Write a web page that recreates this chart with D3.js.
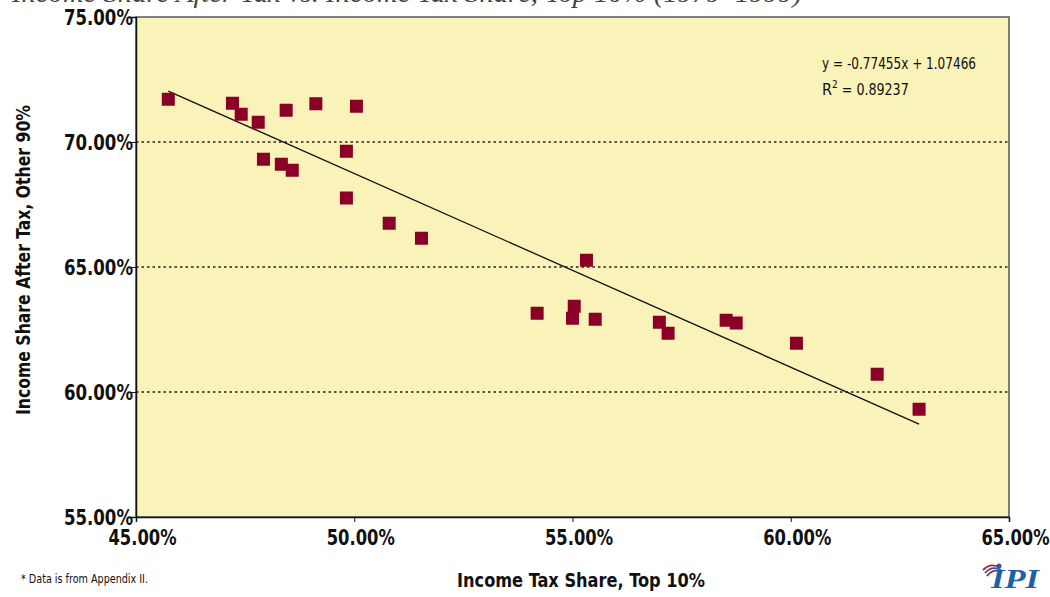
<!DOCTYPE html>
<html>
<head>
<meta charset="utf-8">
<script src="https://cdn.jsdelivr.net/npm/d3@7"></script>
<style>
  body { margin: 0; background: #fff; }
  svg { display: block; }
  .tick-label { font-family: "DejaVu Sans Condensed", "DejaVu Sans", sans-serif; font-stretch: condensed; font-weight: bold; font-size: 22px; fill: #111; }
  .axis-title { font-family: "DejaVu Sans Condensed", "DejaVu Sans", sans-serif; font-stretch: condensed; font-weight: bold; font-size: 19px; fill: #111; }
  .eq { font-family: "DejaVu Sans Condensed", "DejaVu Sans", sans-serif; font-stretch: condensed; font-size: 16px; fill: #111; }
  .note { font-family: "DejaVu Sans Condensed", "DejaVu Sans", sans-serif; font-stretch: condensed; font-size: 12px; fill: #111; }
</style>
</head>
<body>
<svg width="1050" height="597"></svg>
<script>
// income tax share of the top 10% (x) vs after-tax income share of the other 90% (y)
var taxShare = [45.74, 47.21, 47.41, 47.80, 48.44, 49.12, 50.05, 49.82, 47.92, 48.33,
                48.58, 49.82, 50.80, 51.54, 54.19, 55.04, 55.00, 55.32, 55.52, 56.99,
                57.19, 58.52, 58.75, 60.13, 61.98, 62.94];
var incomeShare = [71.71, 71.55, 71.11, 70.79, 71.27, 71.53, 71.43, 69.63, 69.31, 69.11,
                   68.87, 67.76, 66.75, 66.15, 63.15, 63.43, 62.95, 65.27, 62.91, 62.79,
                   62.35, 62.87, 62.76, 61.95, 60.71, 59.31];

var xTicks = [0.45, 0.50, 0.55, 0.60, 0.65];
var yTicks = [0.55, 0.60, 0.65, 0.70, 0.75];
var gridTicks = [0.60, 0.65, 0.70];

var trend = { slope: -0.77455, intercept: 1.07466, r2: 0.89237 };

var svg = d3.select('svg');
var plotLeft = 136, plotRight = 1009, plotTop = 17, plotBottom = 517;

var x = d3.scaleLinear().domain([0.45, 0.65]).range([plotLeft, plotRight]);
var y = d3.scaleLinear().domain([0.55, 0.75]).range([plotBottom, plotTop]);
var fmt = d3.format('.2%');

// title (cut off by the top edge in the source)
svg.append('text')
  .attr('x', 12)
  .attr('y', 2)
  .attr('font-family', 'Liberation Serif, serif')
  .attr('font-style', 'italic')
  .attr('font-size', 28)
  .attr('fill', '#444')
  .attr('textLength', 790)
  .attr('lengthAdjust', 'spacingAndGlyphs')
  .text('Income Share After Tax vs. Income Tax Share, Top 10% (1979–1999)');

// plot area
svg.append('rect')
  .attr('x', plotLeft).attr('y', plotTop)
  .attr('width', plotRight - plotLeft).attr('height', plotBottom - plotTop)
  .attr('fill', '#f9f2b9')
  .attr('stroke', '#555')
  .attr('stroke-width', 1.5);

svg.append('g').selectAll('line').data(gridTicks).enter().append('line')
  .attr('x1', plotLeft).attr('x2', plotRight)
  .attr('y1', function(d) { return y(d); })
  .attr('y2', function(d) { return y(d); })
  .attr('stroke', '#222')
  .attr('stroke-width', 1.3)
  .attr('stroke-dasharray', '2.5,3');

// axes
var xAxis = d3.axisBottom(x).tickValues(xTicks).tickSize(5).tickFormat(fmt);
var gx = svg.append('g').attr('transform', 'translate(0,' + plotBottom + ')').call(xAxis);
gx.attr('font-family', null).attr('font-size', null);
gx.select('.domain').attr('stroke', '#111').attr('stroke-width', 1.5);
gx.selectAll('.tick line').attr('stroke', '#111');
gx.selectAll('.tick text').attr('class', 'tick-label')
  .attr('dx', 6).attr('dy', 20)
  .attr('textLength', 68).attr('lengthAdjust', 'spacingAndGlyphs');

var yAxis = d3.axisLeft(y).tickValues(yTicks).tickSize(5).tickFormat(fmt);
var gy = svg.append('g').attr('transform', 'translate(' + plotLeft + ',0)').call(yAxis);
gy.attr('font-family', null).attr('font-size', null);
gy.select('.domain').attr('stroke', '#111').attr('stroke-width', 1.5);
gy.selectAll('.tick line').attr('stroke', '#111');
gy.selectAll('.tick text').attr('class', 'tick-label')
  .attr('x', -3).attr('dy', '0.34em')
  .attr('textLength', 69).attr('lengthAdjust', 'spacingAndGlyphs');

// trend line
var xMin = d3.min(taxShare) / 100, xMax = d3.max(taxShare) / 100;
svg.append('line')
  .attr('x1', x(xMin)).attr('y1', y(trend.slope * xMin + trend.intercept))
  .attr('x2', x(xMax)).attr('y2', y(trend.slope * xMax + trend.intercept))
  .attr('stroke', '#111')
  .attr('stroke-width', 1.3);

// points
var sz = 13;
svg.append('g').selectAll('rect').data(taxShare).enter().append('rect')
  .attr('x', function(d) { return x(d / 100) - sz / 2; })
  .attr('y', function(d, i) { return y(incomeShare[i] / 100) - sz / 2; })
  .attr('width', sz).attr('height', sz)
  .attr('fill', '#8a0026');

// equation
svg.append('text').attr('class', 'eq').attr('x', 822).attr('y', 69)
  .attr('textLength', 154).attr('lengthAdjust', 'spacingAndGlyphs')
  .text('y = ' + trend.slope + 'x + ' + trend.intercept);
var r2 = svg.append('text').attr('class', 'eq').attr('x', 822).attr('y', 95);
r2.append('tspan').text('R');
r2.append('tspan').attr('font-size', 10).attr('dy', -7).text('2');
r2.append('tspan').attr('dy', 7)
  .attr('textLength', 71).attr('lengthAdjust', 'spacingAndGlyphs')
  .text(' = ' + trend.r2);

// axis titles
svg.append('text').attr('class', 'axis-title')
  .attr('x', 581).attr('y', 587)
  .attr('text-anchor', 'middle')
  .attr('textLength', 248).attr('lengthAdjust', 'spacingAndGlyphs')
  .text('Income Tax Share, Top 10%');

svg.append('text').attr('class', 'axis-title')
  .attr('transform', 'translate(30,260) rotate(-90)')
  .attr('text-anchor', 'middle')
  .attr('textLength', 310).attr('lengthAdjust', 'spacingAndGlyphs')
  .text('Income Share After Tax, Other 90%');

// footnote
svg.append('text').attr('class', 'note')
  .attr('x', 21).attr('y', 583)
  .attr('textLength', 127).attr('lengthAdjust', 'spacingAndGlyphs')
  .text('* Data is from Appendix II.');

// logo
var logo = svg.append('g').attr('transform', 'translate(983,564)');
[0, 1, 2].forEach(function(k) {
  logo.append('path')
    .attr('d', 'M' + (0 + k * 2) + ',' + (6 + k * 3) + ' Q' + (8 + k) + ',' + (-2 + k * 3) + ' ' + (17 + k) + ',' + (4 + k * 2))
    .attr('fill', 'none')
    .attr('stroke', k === 1 ? '#1f5fa8' : '#c8102e')
    .attr('stroke-width', 1.8);
});
logo.append('circle').attr('cx', 16).attr('cy', 2).attr('r', 2.5).attr('fill', '#1f5fa8');
logo.append('text')
  .attr('x', 8).attr('y', 24)
  .attr('font-family', 'Liberation Serif, serif')
  .attr('font-style', 'italic')
  .attr('font-weight', 'bold')
  .attr('font-size', 27)
  .attr('fill', '#1f5fa8')
  .attr('textLength', 48).attr('lengthAdjust', 'spacingAndGlyphs')
  .text('IPI');
</script>
</body>
</html>
